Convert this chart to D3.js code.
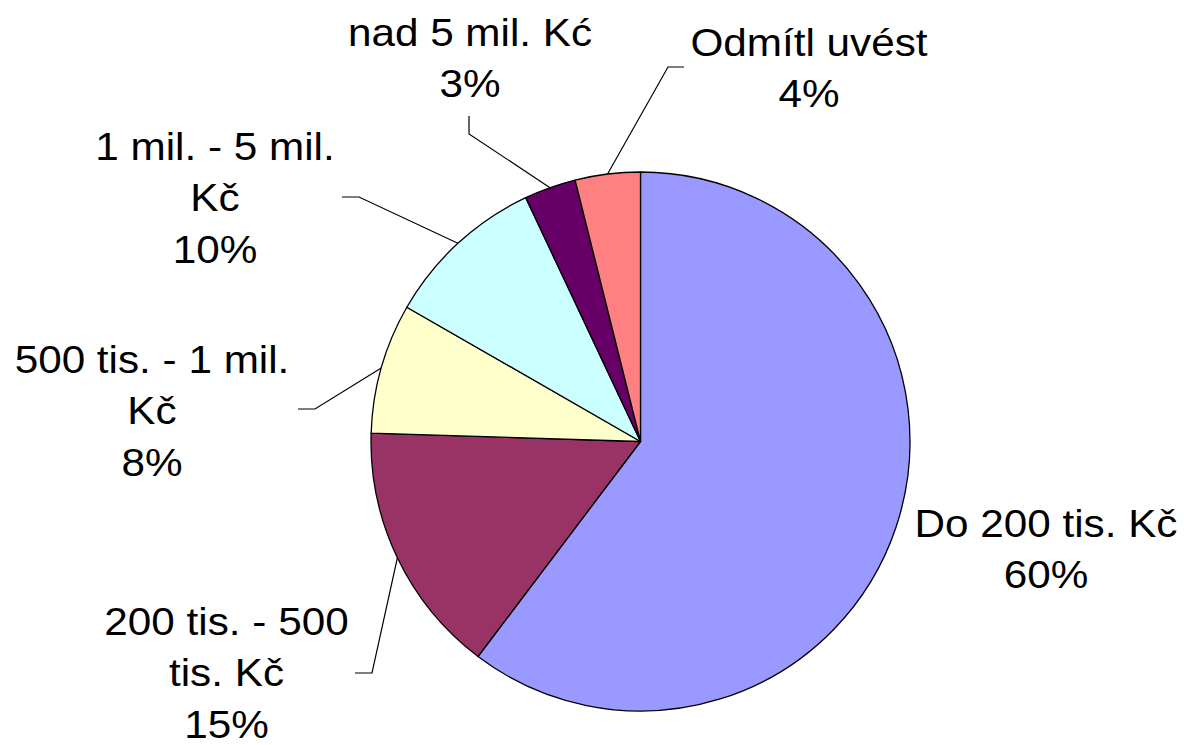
<!DOCTYPE html>
<html>
<head>
<meta charset="utf-8">
<script src="https://cdn.jsdelivr.net/npm/d3@7"></script>
<style>
  html, body { margin: 0; padding: 0; background: #fff; }
  svg { display: block; }
  .lbl { font-family: "Liberation Sans", Arial, sans-serif; font-size: 39.5px; fill: #000; }
</style>
</head>
<body>
<svg id="chart" width="1184" height="745"></svg>
<script>
// DATA
var categories = ["Do 200 tis. Kč", "200 tis. - 500 tis. Kč", "500 tis. - 1 mil. Kč",
                  "1 mil. - 5 mil. Kč", "nad 5 mil. Kć", "Odmítl uvést"];
var shares = [60.3, 15.2, 7.8, 9.7, 3.1, 3.9];
var colors = ["#9999FF", "#993366", "#FFFFCC", "#CCFFFF", "#660066", "#FF8080"];

// LAYOUT (label centre + first baseline, wrap width, leader elbow/end)
var labelPos = [
  {x: 1046, y: 537, wrap: 300, leader: null},
  {x: 226.5, y: 635, wrap: 260, leader: [[372, 673], [355, 673]]},
  {x: 152, y: 373, wrap: 300, leader: [[315, 409], [298, 409]]},
  {x: 215, y: 160, wrap: 260, leader: [[359, 197], [342, 197]]},
  {x: 470, y: 46, wrap: 300, leader: [[469, 134], [469, 116]]},
  {x: 809, y: 56, wrap: 300, leader: [[668, 67], [684, 67]]}
];

var cx = 640.5, cy = 441.5, r = 269.5,
    lineH = 51.5,
    sx = 1.07;

var svg = d3.select('#chart');
var total = d3.sum(shares);

var pie = d3.pie().sort(null).value(function(d) { return d; });
var arc = d3.arc().innerRadius(0).outerRadius(r);
var arcs = pie(shares);

var g = svg.append('g').attr('transform', 'translate(' + cx + ',' + cy + ')');

g.selectAll('path.slice')
  .data(arcs)
  .enter()
  .append('path')
  .attr('class', 'slice')
  .attr('d', arc)
  .style('fill', function(d, i) { return colors[i]; })
  .style('stroke', '#000')
  .style('stroke-width', 1.3)
  .style('stroke-linejoin', 'round');

// leader lines: from the arc midpoint out to the label
var line = d3.line();
arcs.forEach(function(d, i) {
  var lp = labelPos[i];
  if (!lp.leader) return;
  var a = (d.startAngle + d.endAngle) / 2;
  var p0 = [cx + r * Math.sin(a), cy - r * Math.cos(a)];
  svg.append('path')
    .attr('d', line([p0, lp.leader[0], lp.leader[1]]))
    .style('fill', 'none')
    .style('stroke', '#000')
    .style('stroke-width', 1.2);
});

// word wrap using canvas measure
var ctx = document.createElement('canvas').getContext('2d');
ctx.font = '39.5px "Liberation Sans", Arial, sans-serif';
function wrap(text, width) {
  var words = text.split(' '), lines = [], cur = '';
  words.forEach(function(w) {
    var t = cur ? cur + ' ' + w : w;
    if (cur && ctx.measureText(t).width * sx > width) {
      lines.push(cur);
      cur = w;
    } else {
      cur = t;
    }
  });
  if (cur) lines.push(cur);
  return lines;
}

var fmt = function(v) { return Math.round(v / total * 100) + '%'; };

categories.forEach(function(c, i) {
  var lp = labelPos[i];
  var lines = wrap(c, lp.wrap).concat([fmt(shares[i])]);
  var t = svg.append('g')
    .attr('transform', 'translate(' + lp.x + ',' + lp.y + ') scale(' + sx + ',1)')
    .append('text')
    .attr('class', 'lbl')
    .attr('text-anchor', 'middle');
  t.selectAll('tspan')
    .data(lines)
    .enter()
    .append('tspan')
    .attr('x', 0)
    .attr('y', function(d, k) { return k * lineH; })
    .text(function(d) { return d; });
});
</script>
</body>
</html>
